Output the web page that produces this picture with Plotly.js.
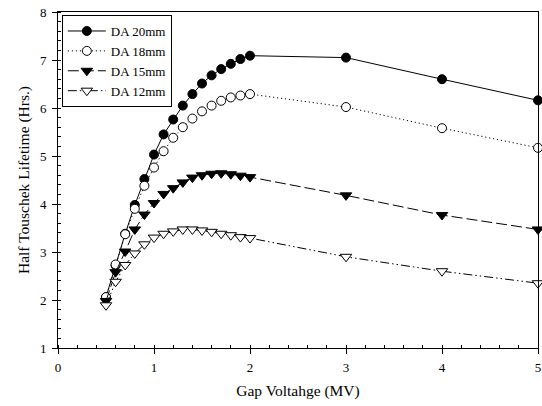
<!DOCTYPE html>
<html>
<head>
<meta charset="utf-8">
<script src="https://cdn.plot.ly/plotly-3.0.1.min.js"></script>
<style>
html,body{margin:0;padding:0;background:#fff;}
#chart{width:542px;height:406px;}
</style>
</head>
<body>
<div id="chart"></div>
<script>
var gapVoltage = [0.5, 0.6, 0.7, 0.8, 0.9, 1.0, 1.1, 1.2, 1.3, 1.4, 1.5, 1.6, 1.7, 1.8, 1.9, 2.0, 3, 4, 5];
var da20 = [2.06, 2.72, 3.38, 3.98, 4.52, 5.03, 5.45, 5.76, 6.05, 6.29, 6.51, 6.68, 6.81, 6.92, 7.02, 7.09, 7.05, 6.60, 6.16];
var da18 = [2.06, 2.74, 3.37, 3.90, 4.38, 4.76, 5.10, 5.38, 5.60, 5.78, 5.93, 6.05, 6.15, 6.22, 6.26, 6.29, 6.02, 5.58, 5.17];
var da15 = [1.98, 2.58, 3.01, 3.47, 3.78, 4.02, 4.21, 4.33, 4.45, 4.55, 4.60, 4.63, 4.64, 4.62, 4.59, 4.56, 4.18, 3.77, 3.47];
var da12 = [1.89, 2.38, 2.73, 2.97, 3.16, 3.30, 3.38, 3.43, 3.47, 3.47, 3.45, 3.42, 3.38, 3.35, 3.31, 3.29, 2.90, 2.60, 2.35];
var seriesNames = ["DA 20mm", "DA 18mm", "DA 15mm", "DA 12mm"];
var xTitle = "Gap Voltahge (MV)";
var yTitle = "Half Touschek Lifetime (Hrs.)";

var font = "'Liberation Serif', 'Times New Roman', serif";
function tr(y, name, sym, fill, dash) {
  return {
    x: gapVoltage, y: y, name: name, type: "scatter", mode: "lines+markers",
    cliponaxis: false,
    line: {color: "#000", width: 1, dash: dash},
    marker: {symbol: sym, size: sym.indexOf("triangle") === 0 ? 10 : 9, color: fill, line: {color: "#000", width: 1}}
  };
}
var data = [
  tr(da20, seriesNames[0], "circle", "#000", "solid"),
  tr(da18, seriesNames[1], "circle", "#fff", "1.2px,2.8px"),
  tr(da15, seriesNames[2], "triangle-down", "#000", "11px,4px"),
  tr(da12, seriesNames[3], "triangle-down", "#fff", "9px,3px,1.5px,3px,1.5px,3px")
];
var minorTicks = {dtick: 0.2, tick0: 0, ticks: "inside", ticklen: 3, tickwidth: 1, tickcolor: "#000", showgrid: false};
var axisCommon = {
  showgrid: false, zeroline: false, showline: true, linecolor: "#000", linewidth: 1,
  mirror: true, ticks: "outside", ticklen: 5, tickcolor: "#000", tickwidth: 1,
  tickfont: {family: font, size: 13, color: "#000"},
  minor: minorTicks
};
var layout = {
  width: 542, height: 406,
  margin: {l: 58, r: 4, t: 12, b: 58},
  paper_bgcolor: "#fff", plot_bgcolor: "#fff",
  font: {family: font, color: "#000"},
  showlegend: true,
  legend: {
    x: 0.008, y: 0.991, xanchor: "left", yanchor: "top",
    bgcolor: "#fff", bordercolor: "#000", borderwidth: 1,
    font: {family: font, size: 13, color: "#000"},
    itemwidth: 38,
    tracegroupgap: 0
  },
  xaxis: Object.assign({}, axisCommon, {
    range: [0, 5], dtick: 1, tick0: 0,
    ticklabelstandoff: 2,
    title: {text: xTitle, font: {family: font, size: 15.5, color: "#000"}, standoff: 11}
  }),
  yaxis: Object.assign({}, axisCommon, {
    range: [1, 8], dtick: 1, tick0: 0,
    ticklabelstandoff: 3,
    title: {text: yTitle, font: {family: font, size: 15.5, color: "#000"}, standoff: 6}
  })
};
Plotly.newPlot("chart", data, layout, {displayModeBar: false, staticPlot: true});
</script>
</body>
</html>
